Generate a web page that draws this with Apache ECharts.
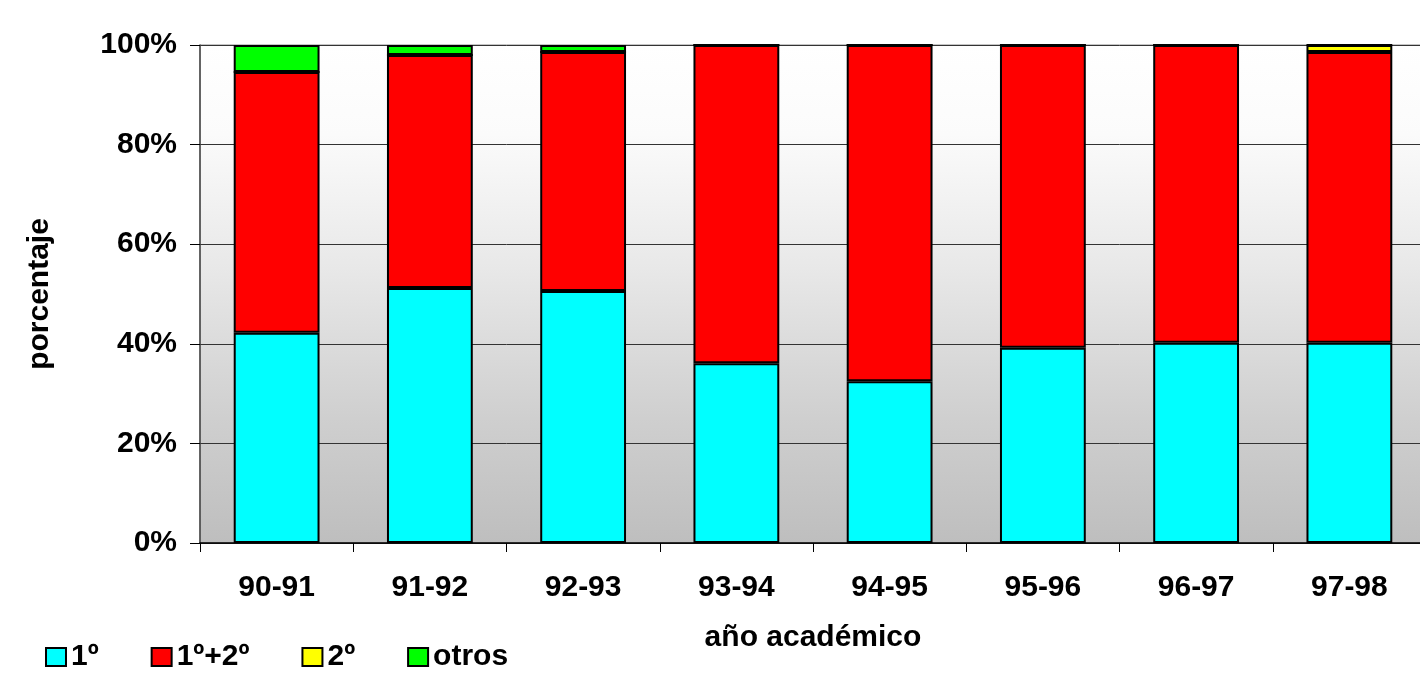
<!DOCTYPE html>
<html>
<head>
<meta charset="utf-8">
<script src="https://cdn.jsdelivr.net/npm/echarts@6/dist/echarts.min.js"></script>
<style>
  html, body { margin: 0; padding: 0; background: #fff; overflow: hidden; }
  #chart { width: 1426px; height: 680px; }
</style>
</head>
<body>
<div id="chart"></div>
<script>
  // datos (porcentaje por año académico)
  var years = ['90-91', '91-92', '92-93', '93-94', '94-95', '95-96', '96-97', '97-98'];
  var primero = [42.2, 51.2, 50.6, 36.1, 32.5, 39.2, 40.2, 40.2];
  var primeroSegundo = [52.4, 46.8, 48.0, 63.9, 67.5, 60.8, 59.8, 58.4];
  var segundo = [0, 0, 0, 0, 0, 0, 0, 1.4];
  var otros = [5.4, 2.0, 1.4, 0, 0, 0, 0, 0];
  var yTicks = [0, 20, 40, 60, 80, 100];

  var font = 'Liberation Sans, Arial, sans-serif';
  var myChart = echarts.init(document.getElementById('chart'));

  function serie(name, color, data) {
    return {
      name: name,
      type: 'bar',
      stack: 'total',
      barCategoryGap: '44%',
      data: data,
      itemStyle: { color: color, borderColor: '#000', borderWidth: 2 }
    };
  }

  var option = {
    animation: false,
    textStyle: { fontFamily: font },
    grid: {
      left: 200, right: 0, top: 45, bottom: 137,
      show: true,
      borderColor: '#8a8a8a',
      borderWidth: 1,
      backgroundColor: {
        type: 'linear', x: 0, y: 0, x2: 0, y2: 1,
        colorStops: [
          { offset: 0, color: '#ffffff' },
          { offset: 0.18, color: '#fbfbfb' },
          { offset: 0.45, color: '#e8e8e8' },
          { offset: 0.75, color: '#cfcfcf' },
          { offset: 1, color: '#bebebe' }
        ]
      }
    },
    legend: {
      left: 40, top: 637,
      itemWidth: 20, itemHeight: 18, itemGap: 52,
      icon: 'rect',
      itemStyle: { borderColor: '#000', borderWidth: 2 },
      textStyle: { fontSize: 30, fontWeight: 'bold', color: '#000', fontFamily: font },
      data: ['1º', '1º+2º', '2º', 'otros']
    },
    xAxis: {
      type: 'category',
      data: years,
      name: 'año académico',
      nameLocation: 'middle',
      nameGap: 80,
      nameTextStyle: { fontSize: 30, fontWeight: 'bold', color: '#000', fontFamily: font },
      axisLine: { lineStyle: { color: '#000', width: 1.5 } },
      axisTick: { show: true, length: 9, lineStyle: { color: '#000' } },
      axisLabel: { margin: 30, fontSize: 30, fontWeight: 'bold', color: '#000', fontFamily: font }
    },
    yAxis: {
      type: 'value',
      min: yTicks[0], max: yTicks[yTicks.length - 1], interval: 20,
      name: 'porcentaje',
      nameLocation: 'middle',
      nameGap: 145,
      nameTextStyle: { fontSize: 30, fontWeight: 'bold', color: '#000', fontFamily: font },
      axisLine: { show: true, lineStyle: { color: '#444', width: 1.5 } },
      axisTick: { show: true, length: 10, lineStyle: { color: '#000' } },
      splitLine: { show: true, lineStyle: { color: '#333', width: 1 } },
      axisLabel: {
        margin: 23, fontSize: 30, fontWeight: 'bold', color: '#000', fontFamily: font,
        formatter: '{value}%'
      }
    },
    series: [
      serie('1º', '#00ffff', primero),
      serie('1º+2º', '#ff0000', primeroSegundo),
      serie('2º', '#ffff00', segundo),
      serie('otros', '#00ff00', otros)
    ]
  };

  myChart.setOption(option);
</script>
</body>
</html>
